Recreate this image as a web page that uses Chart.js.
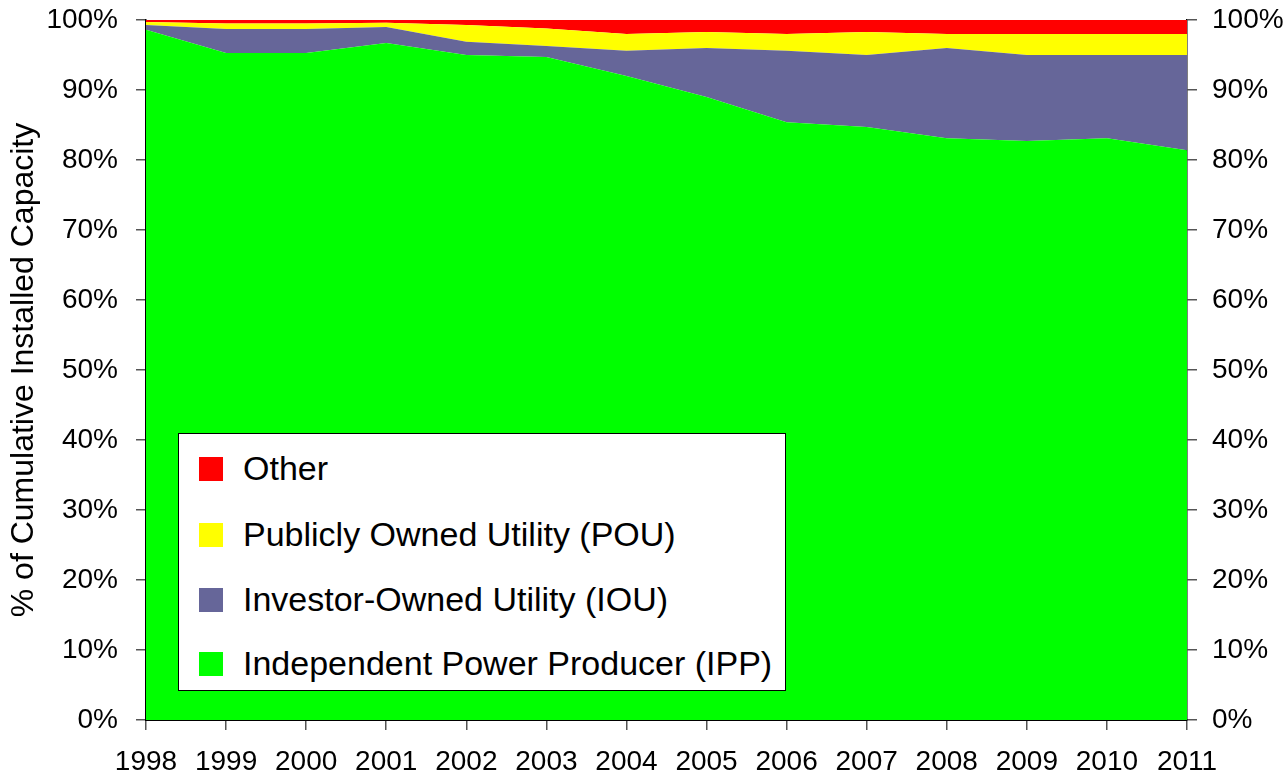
<!DOCTYPE html>
<html>
<head>
<meta charset="utf-8">
<script src="https://cdn.jsdelivr.net/npm/chart.js@4/dist/chart.umd.min.js"></script>
<style>
  html, body { margin: 0; padding: 0; background: #fff; }
  #wrap { position: relative; width: 1285px; height: 772px; }
  #legend {
    position: absolute; left: 178px; top: 433px; width: 606px; height: 256px;
    border: 1px solid #000; background: #fff;
    font-family: "Liberation Sans", Arial, sans-serif; font-size: 34px; color: #000;
  }
  .item { position: absolute; left: 20px; height: 36px; line-height: 36px; white-space: nowrap; }
  .box { display: inline-block; width: 24px; height: 24px; vertical-align: middle; margin-right: 20px; position: relative; top: -2px; }
</style>
</head>
<body>
<div id="wrap">
  <canvas id="chart" width="1285" height="772"></canvas>
  <div id="legend"></div>
</div>
<script>
const years = ['1998','1999','2000','2001','2002','2003','2004','2005','2006','2007','2008','2009','2010','2011'];
const ipp   = [98.6, 95.3, 95.3, 96.7, 95.0, 94.7, 92.0, 89.0, 85.4, 84.7, 83.1, 82.7, 83.1, 81.4];
const iou   = [0.7, 3.4, 3.4, 2.3, 1.9, 1.6, 3.6, 7.0, 10.2, 10.3, 12.9, 12.3, 11.9, 13.6];
const pou   = [0.4, 0.8, 0.8, 0.6, 2.4, 2.5, 2.4, 2.3, 2.4, 3.3, 2.0, 3.0, 3.0, 3.0];
const other = [0.3, 0.5, 0.5, 0.4, 0.7, 1.2, 2.0, 1.7, 2.0, 1.7, 2.0, 2.0, 2.0, 2.0];

const FONT = '"Liberation Sans", Arial, sans-serif';

const series = [
  { label: 'Independent Power Producer (IPP)', data: ipp, color: '#00ff00' },
  { label: 'Investor-Owned Utility (IOU)', data: iou, color: '#666699' },
  { label: 'Publicly Owned Utility (POU)', data: pou, color: '#ffff00' },
  { label: 'Other', data: other, color: '#ff0000' }
];

// y scales: fixed width, no extra label overhang at the top
const fitY = (w) => (s) => { s.width = w; s.paddingTop = 0; s.paddingBottom = 0; };

const ctx = document.getElementById('chart').getContext('2d');
const chart = new Chart(ctx, {
  type: 'line',
  data: {
    labels: years,
    datasets: series.map((s, i) => ({
      label: s.label,
      data: s.data,
      backgroundColor: s.color,
      borderColor: s.color,
      borderWidth: 0,
      pointRadius: 0,
      tension: 0,
      fill: i === 0 ? 'origin' : '-1'
    }))
  },
  options: {
    responsive: false,
    animation: false,
    layout: { padding: { top: 20, right: 0, left: 0, bottom: 0 } },
    plugins: { legend: { display: false }, tooltip: { enabled: false } },
    scales: {
      x: {
        offset: false,
        grid: { drawOnChartArea: false, tickLength: 10, color: '#555', lineWidth: 1.5 },
        border: { color: '#000', width: 2 },
        ticks: { color: '#000', font: { family: FONT, size: 28 }, padding: 15, maxRotation: 0, autoSkip: false },
        afterFit: (s) => { s.height = 52; }
      },
      y: {
        stacked: true, min: 0, max: 100,
        position: 'left',
        grid: { drawOnChartArea: false, tickLength: 10, color: '#555', lineWidth: 1.5 },
        border: { color: '#000', width: 1.5 },
        ticks: { stepSize: 10, color: '#000', font: { family: FONT, size: 28 }, padding: 18, callback: v => v + '%' },
        title: { display: true, text: '% of Cumulative Installed Capacity', color: '#000', font: { family: FONT, size: 32 }, padding: { top: 5, bottom: 0 } },
        afterFit: fitY(146)
      },
      y2: {
        min: 0, max: 100,
        position: 'right',
        grid: { drawOnChartArea: false, tickLength: 10, color: '#555', lineWidth: 1.5 },
        border: { color: '#000', width: 1.5 },
        ticks: { stepSize: 10, color: '#000', font: { family: FONT, size: 28 }, padding: 15, callback: v => v + '%' },
        afterFit: fitY(98)
      }
    }
  }
});

// legend box inside the plot, reversed order like the original
const legend = document.getElementById('legend');
const tops = [16, 82, 147, 211];
chart.data.datasets.slice().reverse().forEach((ds, i) => {
  const row = document.createElement('div');
  row.className = 'item';
  row.style.top = tops[i] + 'px';
  row.innerHTML = `<span class="box" style="background:${ds.backgroundColor}"></span>${ds.label}`;
  legend.appendChild(row);
});
</script>
</body>
</html>
